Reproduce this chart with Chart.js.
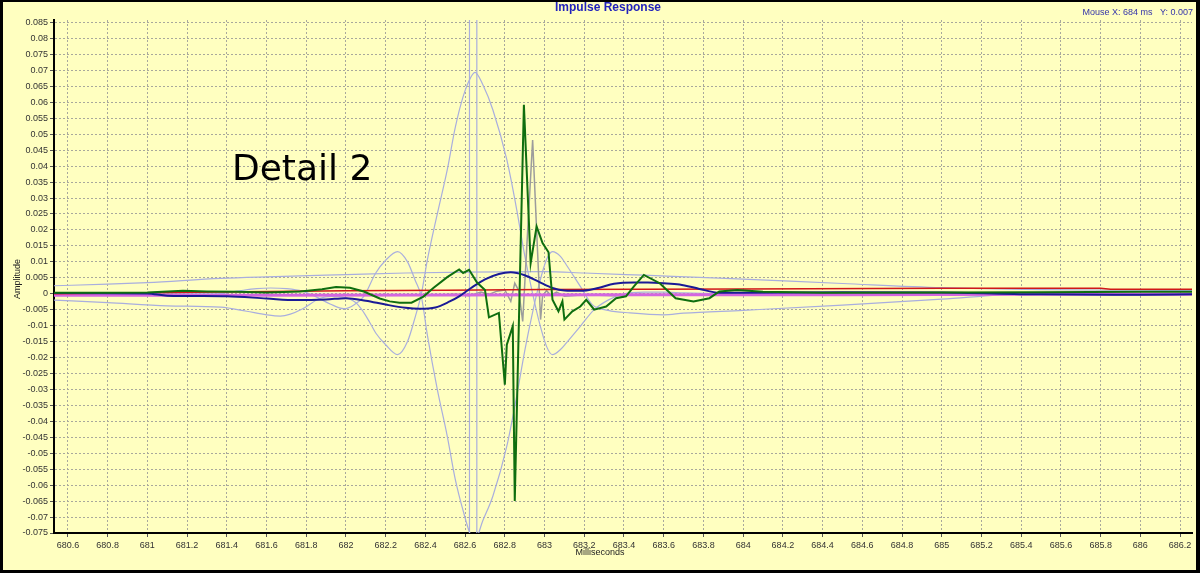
<!DOCTYPE html>
<html>
<head>
<meta charset="utf-8">
<title>Impulse Response</title>
<script src="https://cdn.jsdelivr.net/npm/chart.js@4.4.1/dist/chart.umd.min.js"></script>
<style>
  html, body { margin: 0; padding: 0; background: #ffffc0; }
  #chart { display: block; }
</style>
</head>
<body>
<canvas id="chart" width="1200" height="573"></canvas>
<script>
// axis ticks
const xTicks = [680.6, 680.8, 681, 681.2, 681.4, 681.6, 681.8, 682, 682.2, 682.4, 682.6, 682.8, 683, 683.2,
  683.4, 683.6, 683.8, 684, 684.2, 684.4, 684.6, 684.8, 685, 685.2, 685.4, 685.6, 685.8, 686, 686.2];
const yTicks = [-0.075, -0.07, -0.065, -0.06, -0.055, -0.05, -0.045, -0.04, -0.035, -0.03, -0.025, -0.02,
  -0.015, -0.01, -0.005, 0, 0.005, 0.01, 0.015, 0.02, 0.025, 0.03, 0.035, 0.04, 0.045, 0.05, 0.055, 0.06,
  0.065, 0.07, 0.075, 0.08, 0.085];

// green trace (measured)
const greenX = [680.53, 680.8, 681.0, 681.18, 681.3, 681.45, 681.6, 681.77, 681.88, 681.95, 682.02, 682.09,
  682.17, 682.22, 682.27, 682.33, 682.39, 682.44, 682.51, 682.57, 682.59, 682.62, 682.66, 682.70, 682.72,
  682.77, 682.80, 682.81, 682.84, 682.85, 682.896, 682.93, 682.96, 682.99, 683.02, 683.04, 683.07, 683.09,
  683.10, 683.14, 683.18, 683.21, 683.25, 683.31, 683.36, 683.41, 683.45, 683.50, 683.58, 683.66, 683.75,
  683.83, 683.88, 683.97, 684.1, 684.4, 685.0, 685.5, 686.0, 686.26];
const greenY = [0.0003, 0.0003, 0.0004, 0.0009, 0.0007, 0.0006, 0.0004, 0.0007, 0.0014, 0.0021, 0.0019, 0.0007,
  -0.0015, -0.0024, -0.0028, -0.0028, -0.0009, 0.0018, 0.0052, 0.0076, 0.0065, 0.0075, 0.0035, 0.0012, -0.0074,
  -0.006, -0.0285, -0.016, -0.0102, -0.065, 0.0592, 0.0096, 0.0211, 0.0159, 0.013, -0.0019, -0.0055, -0.0024,
  -0.0081, -0.0055, -0.004, -0.0019, -0.005, -0.004, -0.0014, -0.0008, 0.0023, 0.0059, 0.0033, -0.0014, -0.0024,
  -0.0014, 0.0007, 0.0012, 0.0006, 0.0003, 0.0004, 0.0005, 0.0006, 0.0006];

// navy trace
const navyX = [680.53, 681.0, 681.1, 681.4, 681.6, 681.75, 681.9, 682.0, 682.1, 682.2, 682.3, 682.37, 682.45,
  682.52, 682.57, 682.63, 682.7, 682.77, 682.83, 682.9, 682.97, 683.04, 683.1, 683.18, 683.27, 683.35, 683.45,
  683.52, 683.6, 683.68, 683.78, 683.88, 684.0, 684.5, 685.0, 685.5, 686.0, 686.26];
const navyY = [0.0002, 0.0001, -0.0006, -0.0008, -0.0015, -0.002, -0.0018, -0.0014, -0.0022, -0.0034, -0.0044,
  -0.0047, -0.0043, -0.0025, -0.0008, 0.0018, 0.0045, 0.0062, 0.0067, 0.0058, 0.0038, 0.0018, 0.001, 0.0009,
  0.0018, 0.0031, 0.0035, 0.0035, 0.0033, 0.0029, 0.0015, 0.0003, 0.0003, 0.0005, 0.0004, -0.0002, -0.0003, -0.0002];

// red and magenta near-zero traces
const redX = [680.53, 681.0, 681.5, 682.0, 682.5, 683.0, 683.5, 684.0, 685.0, 685.8, 685.85, 686.26];
const redY = [0.0, 0.0003, 0.0006, 0.0009, 0.0011, 0.0013, 0.0014, 0.0015, 0.0017, 0.0017, 0.0014, 0.0014];
const magentaX = [680.53, 681.5, 682.5, 683.5, 684.5, 685.5, 686.26];
const magentaY = [-0.0005, -0.0005, -0.0004, -0.0003, -0.0003, -0.0002, -0.0002];

// grey spike trace
const greyX = [682.3, 682.45, 682.55, 682.62, 682.68, 682.72, 682.76, 682.80, 682.83, 682.85, 682.87, 682.89,
  682.94, 682.98, 682.99, 683.01, 683.03, 683.06, 683.1, 683.2, 683.35, 683.5];
const greyY = [-0.0003, -0.0005, -0.0002, -0.0006, 0.0005, -0.0002, 0.0008, 0.0012, -0.0024, 0.0033, 0.001,
  -0.0087, 0.0482, -0.0081, -0.0008, 0.001, -0.0005, 0.0005, -0.0008, -0.0003, -0.0006, -0.0002];

// light traces: positive lobe, negative lobe, upper envelope
const lobeUpX = [680.53, 680.8, 681.1, 681.37, 681.5, 681.6, 681.67, 681.72, 681.78, 681.87, 681.93, 681.99,
  682.05, 682.08, 682.12, 682.15, 682.2, 682.26, 682.31, 682.35, 682.38, 682.41, 682.46, 682.51, 682.55, 682.59,
  682.63, 682.65, 682.69, 682.74, 682.81, 682.86, 682.90, 682.94, 682.97, 683.01, 683.04, 683.08, 683.11, 683.18,
  683.25, 683.32, 683.4, 683.5, 683.6, 683.7, 684.0, 685.0, 686.26];
const lobeUpY = [-0.002, -0.0028, -0.0038, -0.0042, -0.0055, -0.0066, -0.007, -0.0064, -0.0048, -0.0014, -0.0008,
  -0.0011, -0.0028, -0.005, -0.009, -0.0123, -0.016, -0.0191, -0.015, -0.007, 0.0, 0.0106, 0.025, 0.0388, 0.052,
  0.0618, 0.068, 0.0694, 0.0654, 0.0576, 0.042, 0.0263, 0.012, 0.0, -0.0081, -0.0165, -0.0191, -0.0175, -0.0154,
  -0.0102, -0.005, -0.002, 0.0, 0.0005, 0.0005, 0.0003, 0.0, 0.0, 0.0];
const lobeDownX = [680.53, 681.35, 681.45, 681.55, 681.62, 681.70, 681.78, 681.85, 681.92, 681.99, 682.04,
  682.09, 682.15, 682.2, 682.26, 682.31, 682.35, 682.38, 682.41, 682.46, 682.51, 682.55, 682.59, 682.63, 682.65,
  682.69, 682.74, 682.81, 682.86, 682.90, 682.94, 682.97, 683.01, 683.04, 683.08, 683.11, 683.18, 683.24, 683.32,
  683.43, 683.6, 683.7, 684.0, 684.5, 685.0, 685.4, 685.8, 686.26];
const lobeDownY = [0.0, 0.0, 0.0008, 0.0016, 0.0018, 0.0016, 0.0008, -0.001, -0.0032, -0.0047, -0.0035, -0.0008,
  0.0065, 0.0105, 0.0132, 0.01, 0.004, -0.001, -0.013, -0.03, -0.0446, -0.058, -0.068, -0.076, -0.077, -0.071,
  -0.0634, -0.0478, -0.032, -0.018, -0.0058, 0.0023, 0.0107, 0.0132, 0.0117, 0.009, 0.0023, -0.0034, -0.0052,
  -0.006, -0.0066, -0.0061, -0.0052, -0.0036, -0.0017, -0.0001, 0.0, 0.0];
const envelopeX = [680.53, 680.8, 681.0, 681.37, 681.6, 682.0, 682.3, 682.6, 683.0, 683.2, 683.5, 683.88, 684.5,
  685.0, 685.5, 686.0, 686.26];
const envelopeY = [0.0025, 0.003, 0.0035, 0.0048, 0.0053, 0.006, 0.0065, 0.0068, 0.0069, 0.0065, 0.0058, 0.0049,
  0.0032, 0.0019, 0.0013, 0.0011, 0.001];

// two vertical marker lines
const markerX = [682.622, 682.659];

const xMin = 680.53, xMax = 686.26, yMin = -0.075, yMax = 0.0858;

function pts(xs, ys) {
  return xs.map((x, i) => ({ x: x, y: ys[i] }));
}

const lavender = '#a9aede';
const datasets = [
  { data: pts(greenX, greenY), borderColor: '#0f6e0f', borderWidth: 2, tension: 0 },
  { data: pts(navyX, navyY), borderColor: '#1a1a96', borderWidth: 2, cubicInterpolationMode: 'monotone' },
  { data: pts(redX, redY), borderColor: '#d01818', borderWidth: 1.5, tension: 0 },
  { data: pts(magentaX, magentaY), borderColor: '#d466e0', borderWidth: 3, tension: 0 },
  { data: pts(greyX, greyY), borderColor: '#9c9c9c', borderWidth: 1.5, tension: 0 },
  { data: pts(lobeUpX, lobeUpY), borderColor: lavender, borderWidth: 1.2, cubicInterpolationMode: 'monotone' },
  { data: pts(lobeDownX, lobeDownY), borderColor: lavender, borderWidth: 1.2, cubicInterpolationMode: 'monotone' },
  { data: pts(envelopeX, envelopeY), borderColor: lavender, borderWidth: 1.2, cubicInterpolationMode: 'monotone' }
];
markerX.forEach(x => {
  datasets.push({ data: [{ x: x, y: yMin }, { x: x, y: yMax }], borderColor: lavender, borderWidth: 1.2 });
});

// background, frame and free texts
const decorations = {
  id: 'decorations',
  beforeDraw(chart) {
    const ctx = chart.ctx;
    ctx.save();
    ctx.fillStyle = '#ffffc0';
    ctx.fillRect(0, 0, chart.width, chart.height);
    ctx.restore();
  },
  afterDraw(chart) {
    const ctx = chart.ctx;
    ctx.save();
    ctx.fillStyle = '#2222bb';
    ctx.font = 'bold 12px "Liberation Sans", Arial, sans-serif';
    ctx.textAlign = 'center';
    ctx.textBaseline = 'middle';
    ctx.fillText('Impulse Response', 608, 8);

    ctx.fillStyle = '#3333aa';
    ctx.font = '9px "Liberation Sans", Arial, sans-serif';
    ctx.textAlign = 'right';
    ctx.fillText('Mouse X: 684 ms   Y: 0.007', 1193, 13);

    ctx.fillStyle = '#222';
    ctx.textAlign = 'center';
    ctx.fillText('Milliseconds', 600, 553);
    ctx.save();
    ctx.translate(18, 279);
    ctx.rotate(-Math.PI / 2);
    ctx.fillText('Amplitude', 0, 0);
    ctx.restore();

    ctx.fillStyle = '#000';
    ctx.font = '36px "DejaVu Sans", sans-serif';
    ctx.textAlign = 'left';
    ctx.textBaseline = 'alphabetic';
    ctx.fillText('Detail 2', 232, 180);

    // outer black frame
    ctx.fillRect(0, 0, chart.width, 2);
    ctx.fillRect(0, chart.height - 3, chart.width, 3);
    ctx.fillRect(0, 0, 3, chart.height);
    ctx.fillRect(chart.width - 4, 0, 4, chart.height);
    ctx.restore();
  }
};

const tickFont = { family: '"Liberation Sans", Arial, sans-serif', size: 9 };

new Chart(document.getElementById('chart'), {
  type: 'line',
  data: { datasets: datasets },
  options: {
    responsive: false,
    animation: false,
    events: [],
    layout: { padding: { left: 0, top: 20, right: 8, bottom: 0 } },
    elements: { point: { radius: 0 }, line: { fill: false } },
    plugins: { legend: { display: false }, tooltip: { enabled: false }, title: { display: false } },
    scales: {
      x: {
        type: 'linear',
        min: xMin,
        max: xMax,
        afterBuildTicks: s => { s.ticks = xTicks.map(v => ({ value: v })); },
        afterFit: s => { s.height = 40; },
        ticks: {
          autoSkip: false,
          maxRotation: 0,
          padding: 3,
          color: '#333',
          font: tickFont,
          callback: v => String(Number(v.toFixed(1)))
        },
        grid: { color: '#a8a89c', lineWidth: 1, tickLength: 4, tickColor: '#555', tickBorderDash: [] },
        border: { color: '#000', width: 2, dash: [2, 2] }
      },
      y: {
        type: 'linear',
        min: yMin,
        max: yMax,
        afterBuildTicks: s => { s.ticks = yTicks.map(v => ({ value: v })); },
        afterFit: s => { s.width = 54; },
        ticks: {
          autoSkip: false,
          padding: 2,
          color: '#333',
          font: tickFont,
          callback: v => String(Number(v.toFixed(3)))
        },
        grid: { color: '#a8a89c', lineWidth: 1, tickLength: 4, tickColor: '#555', tickBorderDash: [] },
        border: { color: '#000', width: 2, dash: [2, 2] }
      }
    }
  },
  plugins: [decorations]
});
</script>
</body>
</html>
